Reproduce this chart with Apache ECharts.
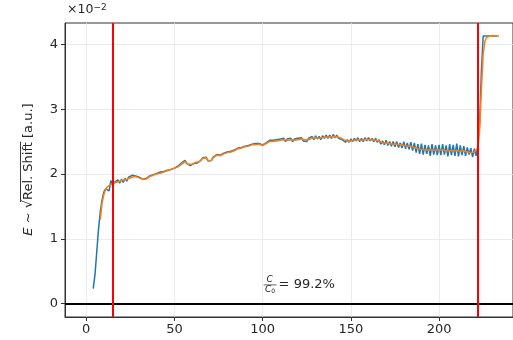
<!DOCTYPE html>
<html><head><meta charset="utf-8">
<script src="https://cdn.jsdelivr.net/npm/echarts@6/dist/echarts.min.js"></script>
<style>html,body{margin:0;padding:0;background:#fff}#c{width:513px;height:340px}</style>
</head><body><div id="c"></div><script>
// x positions start at these values, step 1
const blueStart = 4;
const blueValues = [
0.23,0.45,0.80,1.15,1.42,1.60,1.72,1.77,1.79,1.74,
1.90,1.82,1.87,1.85,1.91,1.86,1.92,1.87,1.93,1.89,
1.95,1.92,1.98,1.95,1.97,1.94,1.95,1.92,1.92,1.90,
1.93,1.93,1.97,1.96,1.99,1.98,2.01,1.99,2.03,2.00,
2.04,2.03,2.06,2.05,2.07,2.08,2.09,2.09,2.12,2.11,
2.17,2.18,2.21,2.16,2.16,2.13,2.16,2.16,2.19,2.17,
2.20,2.21,2.25,2.26,2.26,2.20,2.18,2.21,2.26,2.28,
2.30,2.27,2.29,2.28,2.32,2.31,2.34,2.33,2.35,2.34,
2.37,2.37,2.40,2.38,2.41,2.40,2.43,2.41,2.44,2.43,
2.46,2.44,2.47,2.45,2.47,2.44,2.45,2.43,2.48,2.48,
2.52,2.49,2.52,2.49,2.53,2.50,2.54,2.51,2.55,2.50,
2.54,2.51,2.55,2.50,2.54,2.51,2.55,2.52,2.56,2.51,
2.54,2.50,2.55,2.52,2.58,2.53,2.59,2.54,2.58,2.53,
2.59,2.55,2.60,2.55,2.60,2.55,2.61,2.56,2.60,2.55,
2.58,2.53,2.54,2.49,2.53,2.49,2.54,2.50,2.55,2.51,
2.56,2.50,2.55,2.50,2.56,2.51,2.56,2.51,2.55,2.50,
2.55,2.49,2.53,2.46,2.51,2.45,2.52,2.44,2.50,2.43,
2.50,2.42,2.50,2.41,2.48,2.40,2.50,2.39,2.48,2.38,
2.49,2.36,2.48,2.33,2.46,2.31,2.47,2.30,2.45,2.31,
2.44,2.28,2.46,2.30,2.44,2.29,2.45,2.29,2.46,2.30,
2.44,2.27,2.46,2.29,2.45,2.28,2.47,2.27,2.44,2.29,
2.43,2.28,2.41,2.30,2.40,2.26,2.39,2.28,2.44,2.80,
3.60,4.13,4.13,4.13,4.13,4.13,4.13,4.13,4.13,4.13
];
const orangeStart = 8;
const orangeValues = [
1.30,1.55,1.68,1.76,1.80,1.82,1.84,1.85,1.86,1.87,
1.88,1.89,1.90,1.90,1.91,1.92,1.93,1.94,1.95,1.96,
1.96,1.95,1.94,1.93,1.92,1.91,1.92,1.94,1.96,1.97,
1.98,1.99,2.00,2.01,2.01,2.02,2.03,2.04,2.05,2.06,
2.07,2.08,2.09,2.10,2.11,2.12,2.15,2.18,2.19,2.17,
2.15,2.14,2.15,2.17,2.18,2.18,2.19,2.21,2.24,2.26,
2.25,2.21,2.19,2.21,2.25,2.28,2.29,2.28,2.28,2.29,
2.31,2.32,2.33,2.34,2.34,2.35,2.36,2.38,2.39,2.39,
2.40,2.41,2.42,2.42,2.43,2.44,2.45,2.45,2.45,2.46,
2.46,2.45,2.44,2.45,2.47,2.49,2.50,2.50,2.50,2.51,
2.51,2.51,2.52,2.52,2.53,2.52,2.52,2.53,2.53,2.52,
2.52,2.53,2.53,2.54,2.54,2.53,2.53,2.52,2.53,2.54,
2.55,2.55,2.56,2.56,2.55,2.55,2.56,2.57,2.57,2.57,
2.57,2.57,2.58,2.58,2.57,2.57,2.56,2.55,2.53,2.52,
2.51,2.51,2.51,2.52,2.52,2.53,2.53,2.53,2.52,2.52,
2.53,2.53,2.53,2.53,2.53,2.52,2.52,2.52,2.51,2.49,
2.48,2.48,2.48,2.47,2.47,2.47,2.46,2.46,2.46,2.45,
2.45,2.44,2.44,2.44,2.43,2.43,2.43,2.42,2.41,2.40,
2.39,2.39,2.38,2.38,2.37,2.37,2.37,2.37,2.37,2.37,
2.37,2.37,2.37,2.37,2.37,2.36,2.36,2.36,2.36,2.36,
2.36,2.36,2.36,2.35,2.35,2.35,2.36,2.35,2.34,2.34,
2.33,2.33,2.34,2.36,2.40,2.70,3.30,3.85,4.05,4.11,
4.12,4.13,4.13,4.13,4.13,4.13,4.13
];
const xTicks = [0, 50, 100, 150, 200];
const yTicks = [0, 1, 2, 3, 4];
const redLines = [15, 222];
const zeroLine = 0;
const annotText = '= 99.2%';
const annotPos = [100, 0.15];
const yLabelParts = [
  {t: 'E', italic: true},
  {t: ' ~ '},
  {t: '√'},
  {t: 'Rel. Shift', over: true},
  {t: ' [a.u.]'}
];

const blueData = blueValues.map((v, i) => [blueStart + i, v]);
const orangeData = orangeValues.map((v, i) => [orangeStart + i, v]);

const FONT = 'DejaVu Sans';
const FS = 13;
const TXT = '#262626';
const chart = echarts.init(document.getElementById('c'), null, {renderer: 'canvas'});
const lbl = {color: TXT, fontFamily: FONT, fontSize: FS};
chart.setOption({
  animation: false,
  backgroundColor: '#fff',
  grid: {left: 65, right: 0, top: 23, bottom: 23, show: true, borderColor: '#333', borderWidth: 1, backgroundColor: 'transparent'},
  xAxis: {
    type: 'value', min: -12, max: 241.9,
    axisLine: {show: true, onZero: false, lineStyle: {color: '#333', width: 1}},
    axisTick: {show: true, length: 4, lineStyle: {color: '#333'}, customValues: xTicks},
    axisLabel: Object.assign({margin: 6, customValues: xTicks}, lbl),
    splitLine: {show: true, lineStyle: {color: '#e6e6e6', width: 0.8}}
  },
  yAxis: {
    type: 'value', min: -0.2065, max: 4.33,
    axisLine: {show: true, onZero: false, lineStyle: {color: '#333', width: 1}},
    axisTick: {show: true, length: 4, lineStyle: {color: '#333'}, customValues: yTicks},
    axisLabel: Object.assign({margin: 7, customValues: yTicks}, lbl),
    splitLine: {show: true, lineStyle: {color: '#e6e6e6', width: 0.8}}
  },
  series: [
    {type: 'line', data: blueData, showSymbol: false, symbol: 'none',
     lineStyle: {color: '#1f77b4', width: 1.5}, z: 3,
     markLine: {silent: true, symbol: 'none', label: {show: false},
       lineStyle: {color: '#000', width: 2, type: 'solid'},
       data: [{yAxis: zeroLine}]}},
    {type: 'line', data: orangeData, showSymbol: false, symbol: 'none',
     lineStyle: {color: '#ff7f0e', width: 1.5}, z: 4,
     markLine: {silent: true, symbol: 'none', label: {show: false},
       lineStyle: {color: '#ff0000', width: 2, type: 'solid'},
       data: redLines.map(v => ({xAxis: v}))}}
  ]
});

// Y-axis label built as a rotated group (so the radical's overline can be drawn)
const ctx = document.createElement('canvas').getContext('2d');
function fontOf(p) { return (p.italic ? 'italic ' : '') + FS + 'px ' + FONT; }
let total = 0;
const widths = yLabelParts.map(p => { ctx.font = fontOf(p); const w = ctx.measureText(p.t).width; total += w; return w; });
const children = [];
let cx = -total / 2;
yLabelParts.forEach((p, i) => {
  children.push({type: 'text', x: cx, y: 0, style: {text: p.t, fill: TXT, font: fontOf(p), align: 'left', verticalAlign: 'middle'}});
  if (p.over) {
    children.push({type: 'line', shape: {x1: cx - 2, y1: -8.5, x2: cx + widths[i] + 0.5, y2: -8.5}, style: {stroke: TXT, lineWidth: 0.9}});
  }
  cx += widths[i];
});

const p = chart.convertToPixel({gridIndex: 0}, annotPos);
chart.setOption({
  graphic: [
    {type: 'group', x: 29, y: 169.5, rotation: Math.PI / 2, children: children},
    {type: 'text', left: 67, top: 3, style: {text: '×10{s|−2}', fill: TXT, font: '12.5px ' + FONT,
      rich: {s: {fontSize: 9, verticalAlign: 'top', fill: TXT, fontFamily: FONT, padding: [0,0,5,0]}}}},
    {type: 'text', x: p[0] + 7, y: p[1] - 9.5, style: {text: 'C', fill: TXT, font: 'italic 9px ' + FONT, align: 'center', verticalAlign: 'bottom'}},
    {type: 'line', shape: {x1: p[0] + 1, y1: p[1] - 9, x2: p[0] + 14, y2: p[1] - 9}, style: {stroke: TXT, lineWidth: 0.7}},
    {type: 'text', x: p[0] + 7.5, y: p[1] - 8.5, style: {text: 'C{s|0}', fill: TXT, font: 'italic 9px ' + FONT, align: 'center', verticalAlign: 'top',
      rich: {s: {fontSize: 6, fontStyle: 'normal', fill: TXT, fontFamily: FONT, verticalAlign: 'bottom'}}}},
    {type: 'text', x: p[0] + 16, y: p[1] - 9, style: {text: annotText, fill: TXT, font: '13px ' + FONT, align: 'left', verticalAlign: 'middle'}}
  ]
});
</script></body></html>
